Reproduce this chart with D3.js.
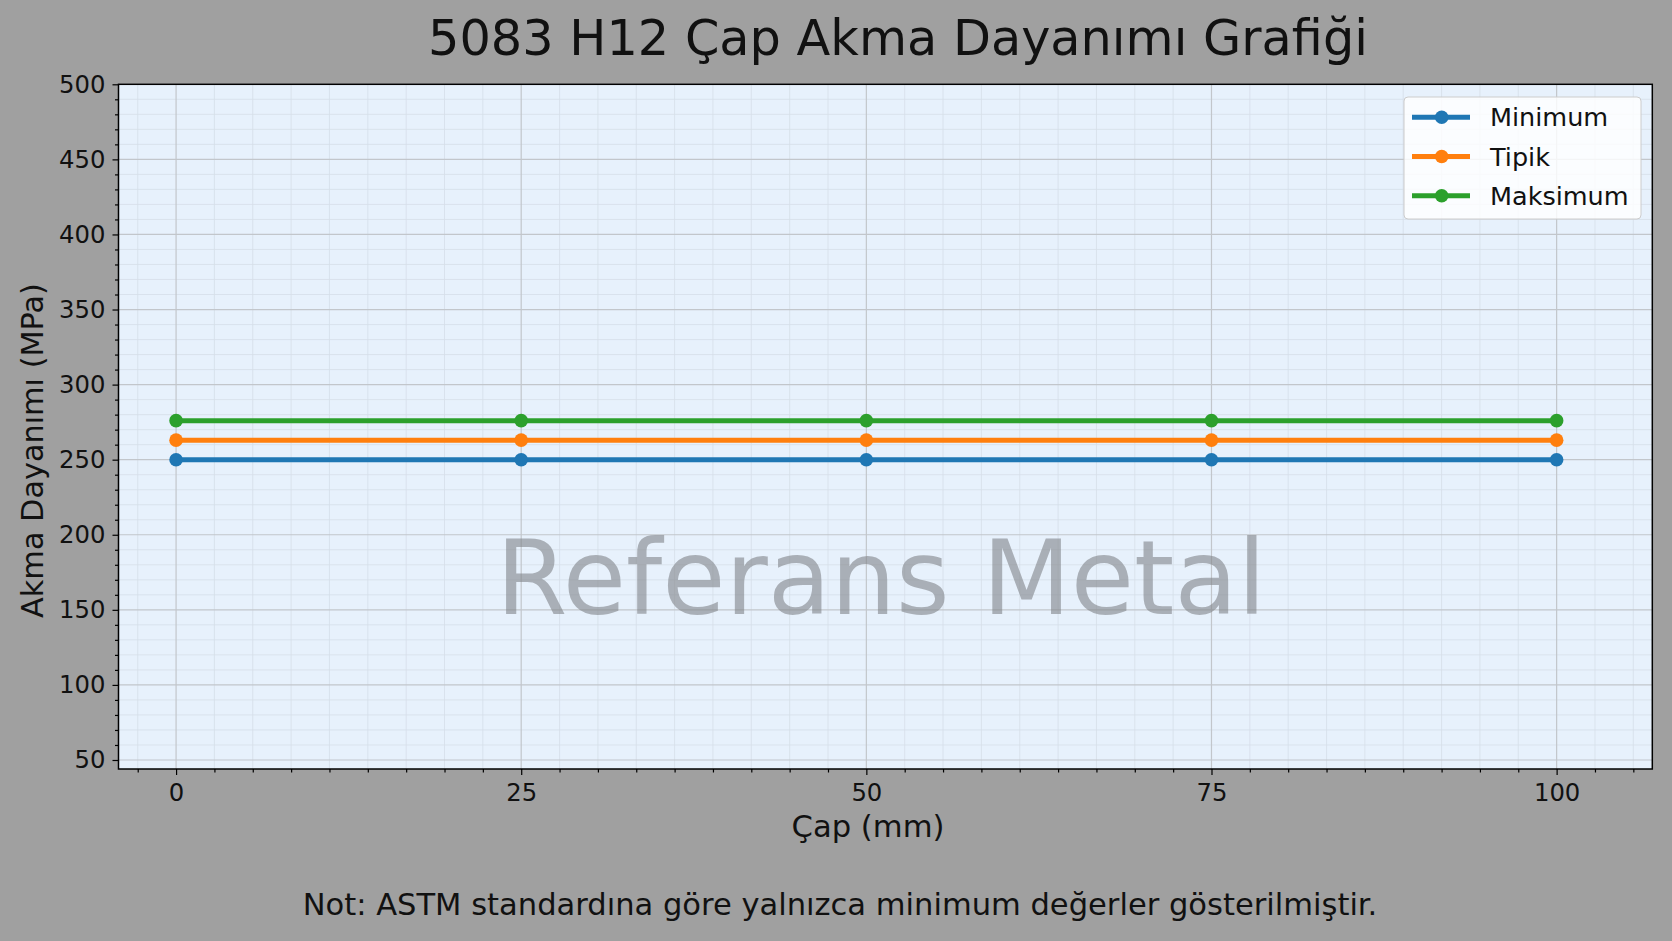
<!DOCTYPE html>
<html>
<head>
<meta charset="utf-8">
<script src="https://cdn.jsdelivr.net/npm/d3@7"></script>
<style>
  body { margin: 0; background: #a0a0a0; }
  svg { display: block; font-family: "DejaVu Sans", sans-serif; }
</style>
</head>
<body>
<div id="chart"></div>
<script>
// data
var diameters = [0, 25, 50, 75, 100];
var minValues = [250, 250, 250, 250, 250];
var typValues = [263, 263, 263, 263, 263];
var maxValues = [276, 276, 276, 276, 276];
var seriesNames = ["Minimum", "Tipik", "Maksimum"];
var seriesColors = ["#1f77b4", "#ff7f0e", "#2ca02c"];
var xTicks = [0, 25, 50, 75, 100];
var yTicks = [50, 100, 150, 200, 250, 300, 350, 400, 450, 500];

var width = 1672;
var height = 941;
var plot = {left: 118.5, right: 1652.3, top: 84.3, bottom: 769};

var svg = d3.select("#chart")
  .append("svg")
  .attr("width", width)
  .attr("height", height);

svg.append("rect")
  .attr("width", width)
  .attr("height", height)
  .attr("fill", "#a0a0a0");

var x = d3.scaleLinear().domain([-4.17, 106.93]).range([plot.left, plot.right]);
var y = d3.scaleLinear().domain([44, 500]).range([plot.bottom, plot.top]);

// plot background
svg.append("rect")
  .attr("x", plot.left)
  .attr("y", plot.top)
  .attr("width", plot.right - plot.left)
  .attr("height", plot.bottom - plot.top)
  .attr("fill", "#e7f1fc");

var xMinor = d3.range(-25 / 9, 107, 25 / 9).filter(function(v) {
  return Math.abs(v / 25 - Math.round(v / 25)) > 0.01;
});
var yMinor = d3.range(50, 500, 10).filter(function(v) { return v % 50 !== 0; });

// grid
var grid = svg.append("g");
grid.selectAll(".xminor").data(xMinor).enter().append("line")
  .attr("x1", function(d) { return x(d); }).attr("x2", function(d) { return x(d); })
  .attr("y1", plot.top).attr("y2", plot.bottom)
  .attr("stroke", "#d6dee8").attr("stroke-width", 0.8);
grid.selectAll(".yminor").data(yMinor).enter().append("line")
  .attr("y1", function(d) { return y(d); }).attr("y2", function(d) { return y(d); })
  .attr("x1", plot.left).attr("x2", plot.right)
  .attr("stroke", "#d6dee8").attr("stroke-width", 0.8);
grid.selectAll(".xmajor").data(xTicks).enter().append("line")
  .attr("x1", function(d) { return x(d); }).attr("x2", function(d) { return x(d); })
  .attr("y1", plot.top).attr("y2", plot.bottom)
  .attr("stroke", "#c2c6cb").attr("stroke-width", 1.2);
grid.selectAll(".ymajor").data(yTicks).enter().append("line")
  .attr("y1", function(d) { return y(d); }).attr("y2", function(d) { return y(d); })
  .attr("x1", plot.left).attr("x2", plot.right)
  .attr("stroke", "#c2c6cb").attr("stroke-width", 1.2);

// watermark
svg.append("text")
  .attr("class", "fit")
  .attr("data-w", 770)
  .attr("x", 881)
  .attr("y", 614)
  .attr("text-anchor", "middle")
  .attr("font-size", 104)
  .attr("fill", "#808488")
  .attr("fill-opacity", 0.6)
  .text("Referans Metal");

// series
var series = [minValues, typValues, maxValues];
var line = d3.line()
  .x(function(d, i) { return x(diameters[i]); })
  .y(function(d) { return y(d); });

series.forEach(function(vals, s) {
  var g = svg.append("g");
  g.append("path")
    .datum(vals)
    .attr("d", line)
    .attr("fill", "none")
    .attr("stroke", seriesColors[s])
    .attr("stroke-width", 5);
  g.selectAll("circle").data(vals).enter().append("circle")
    .attr("cx", function(d, i) { return x(diameters[i]); })
    .attr("cy", function(d) { return y(d); })
    .attr("r", 6.8)
    .attr("fill", seriesColors[s]);
});

// axes
var xAxis = d3.axisBottom(x).tickValues(xTicks).tickSize(6).tickPadding(6);
var yAxis = d3.axisLeft(y).tickValues(yTicks).tickSize(6).tickPadding(7);

var gx = svg.append("g").attr("transform", "translate(0," + plot.bottom + ")").call(xAxis);
var gy = svg.append("g").attr("transform", "translate(" + plot.left + ",0)").call(yAxis);

svg.append("g").attr("transform", "translate(0," + plot.bottom + ")")
  .call(d3.axisBottom(x).tickValues(xMinor).tickSize(3.5).tickFormat(""))
  .select(".domain").remove();
svg.append("g").attr("transform", "translate(" + plot.left + ",0)")
  .call(d3.axisLeft(y).tickValues(yMinor).tickSize(3.5).tickFormat(""))
  .select(".domain").remove();

svg.selectAll(".domain").remove();
svg.selectAll(".tick line").attr("stroke", "#000").attr("stroke-width", 1.2);
svg.selectAll(".tick text")
  .attr("font-family", "DejaVu Sans")
  .attr("font-size", 24.3)
  .attr("fill", "#111");
gx.selectAll(".tick text").attr("dy", null).attr("y", 31.5).attr("dominant-baseline", "auto");

// frame
svg.append("rect")
  .attr("x", plot.left)
  .attr("y", plot.top)
  .attr("width", plot.right - plot.left)
  .attr("height", plot.bottom - plot.top)
  .attr("fill", "none")
  .attr("stroke", "#000")
  .attr("stroke-width", 1.5);

// legend
var legend = svg.append("g");
legend.append("rect")
  .attr("x", 1404).attr("y", 97)
  .attr("width", 237).attr("height", 122)
  .attr("rx", 4)
  .attr("fill", "#fff").attr("fill-opacity", 0.82)
  .attr("stroke", "#cccccc").attr("stroke-width", 1);
seriesNames.forEach(function(name, i) {
  var ly = 117.3 + i * 39.2;
  legend.append("line")
    .attr("x1", 1412).attr("x2", 1470)
    .attr("y1", ly).attr("y2", ly)
    .attr("stroke", seriesColors[i]).attr("stroke-width", 5);
  legend.append("circle")
    .attr("cx", 1441.7).attr("cy", ly).attr("r", 6.8)
    .attr("fill", seriesColors[i]);
  legend.append("text")
    .attr("x", 1490).attr("y", ly + 9)
    .attr("font-size", 25.5)
    .attr("fill", "#111")
    .text(name);
});

// titles
svg.append("text")
  .attr("class", "fit").attr("data-w", 940)
  .attr("x", 898).attr("y", 55)
  .attr("text-anchor", "middle")
  .attr("font-size", 47)
  .attr("fill", "#111")
  .text("5083 H12 Çap Akma Dayanımı Grafiği");

svg.append("text")
  .attr("class", "fit").attr("data-w", 153)
  .attr("x", 868).attr("y", 836.7)
  .attr("text-anchor", "middle")
  .attr("font-size", 31)
  .attr("fill", "#111")
  .text("Çap (mm)");

svg.append("text")
  .attr("class", "fit").attr("data-w", 335)
  .attr("transform", "translate(43,450.5) rotate(-90)")
  .attr("text-anchor", "middle")
  .attr("font-size", 30)
  .attr("fill", "#111")
  .text("Akma Dayanımı (MPa)");

svg.append("text")
  .attr("class", "fit").attr("data-w", 1075)
  .attr("x", 840).attr("y", 915)
  .attr("text-anchor", "middle")
  .attr("font-size", 28)
  .attr("fill", "#111")
  .text("Not: ASTM standardına göre yalnızca minimum değerler gösterilmiştir.");

// scale text sizes to the widths measured on the reference
svg.selectAll("text.fit").each(function() {
  var t = d3.select(this);
  var target = +t.attr("data-w");
  var len = this.getComputedTextLength();
  if (len > 0) t.attr("font-size", +t.attr("font-size") * target / len);
});
</script>
</body>
</html>
